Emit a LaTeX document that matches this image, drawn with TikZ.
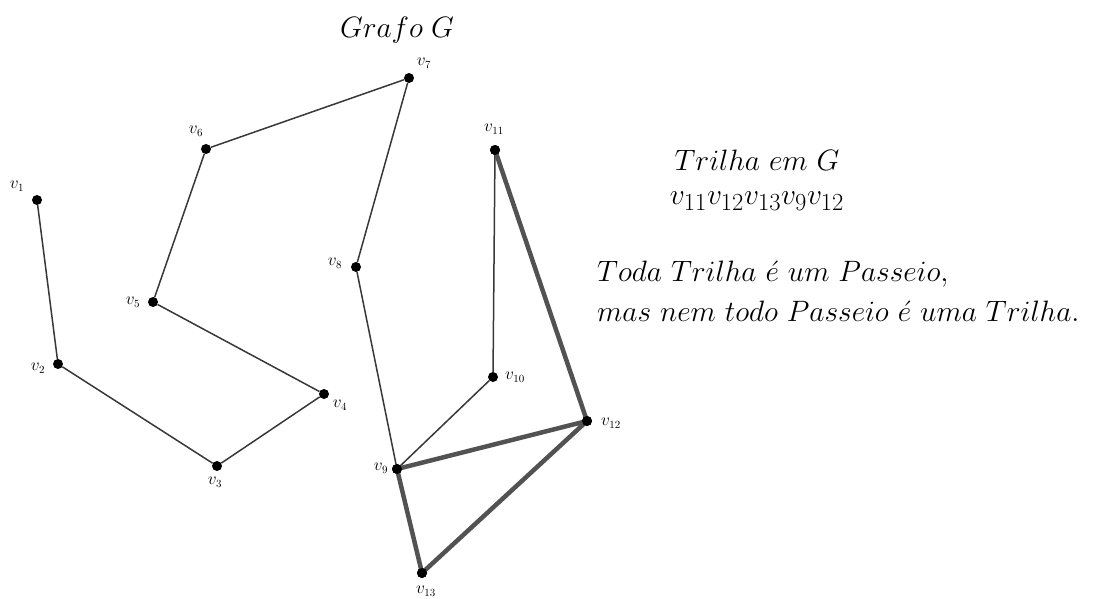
\documentclass[tikz,border=0pt]{standalone}
\begin{document}
\begin{tikzpicture}[x=1pt,y=-1pt,
  vtx/.style={circle,fill=black,inner sep=0pt,minimum size=10pt},
  lbl/.style={inner sep=0pt,font=\fontsize{16}{18}\selectfont},
  big/.style={inner sep=0pt,font=\fontsize{24.88}{30}\selectfont,transform shape,scale=1.185},
  thin/.style={line width=1.5pt,draw=black!78},
  thick/.style={line width=4.5pt,draw=black!68}]
\useasboundingbox (0,0) rectangle (1096,599);
\node[vtx] (v1) at (37,200) {};
\node[vtx] (v2) at (58,364) {};
\node[vtx] (v3) at (217,466) {};
\node[vtx] (v4) at (324,394) {};
\node[vtx] (v5) at (153,302) {};
\node[vtx] (v6) at (206,149) {};
\node[vtx] (v7) at (409,78) {};
\node[vtx] (v8) at (356,267) {};
\node[vtx] (v9) at (397,469) {};
\node[vtx] (v10) at (493,377) {};
\node[vtx] (v11) at (495,150) {};
\node[vtx] (v12) at (587,421) {};
\node[vtx] (v13) at (422,573) {};
\node[lbl] (l1) at (17,186) {$v_1$};
\node[lbl] (l2) at (38,368) {$v_2$};
\node[lbl] (l3) at (215,482) {$v_3$};
\node[lbl] (l4) at (340,405) {$v_4$};
\node[lbl] (l5) at (133,302) {$v_5$};
\node[lbl] (l6) at (196,131) {$v_6$};
\node[lbl] (l7) at (424,63) {$v_7$};
\node[lbl] (l8) at (335,263) {$v_8$};
\node[lbl] (l9) at (381,468) {$v_9$};
\node[lbl] (l10) at (515,377) {$v_{10}$};
\node[lbl] (l11) at (494,129) {$v_{11}$};
\node[lbl] (l12) at (611,423) {$v_{12}$};
\node[lbl] (l13) at (426,591) {$v_{13}$};
\draw[thin] (v1) -- (v2) -- (v3) -- (v4) -- (v5) -- (v6) -- (v7) -- (v8) -- (v9) -- (v10) -- (v11);
\draw[thick] (v11.center) -- (v12.center) -- (v9.center) -- (v13.center) -- (v12.center);
\foreach \n in {v9,v11,v12,v13}{\node[vtx] at (\n) {};}
\node[big] (title) at (397,30) {$Grafo\;G$};
\node[big] (t1) at (757,160) {$Trilha\ em\ G$};
\node[big] (t2) at (757,201) {$v_{11}v_{12}v_{13}v_9v_{12}$};
\node[big,anchor=west,align=left] (t3) at (597,291) {$Toda\ Trilha\ \acute{e}\ um\ Passeio,$\\[4pt]$mas\ nem\ todo\ Passeio\ \acute{e}\ uma\ Trilha.$};
\end{tikzpicture}
\end{document}
